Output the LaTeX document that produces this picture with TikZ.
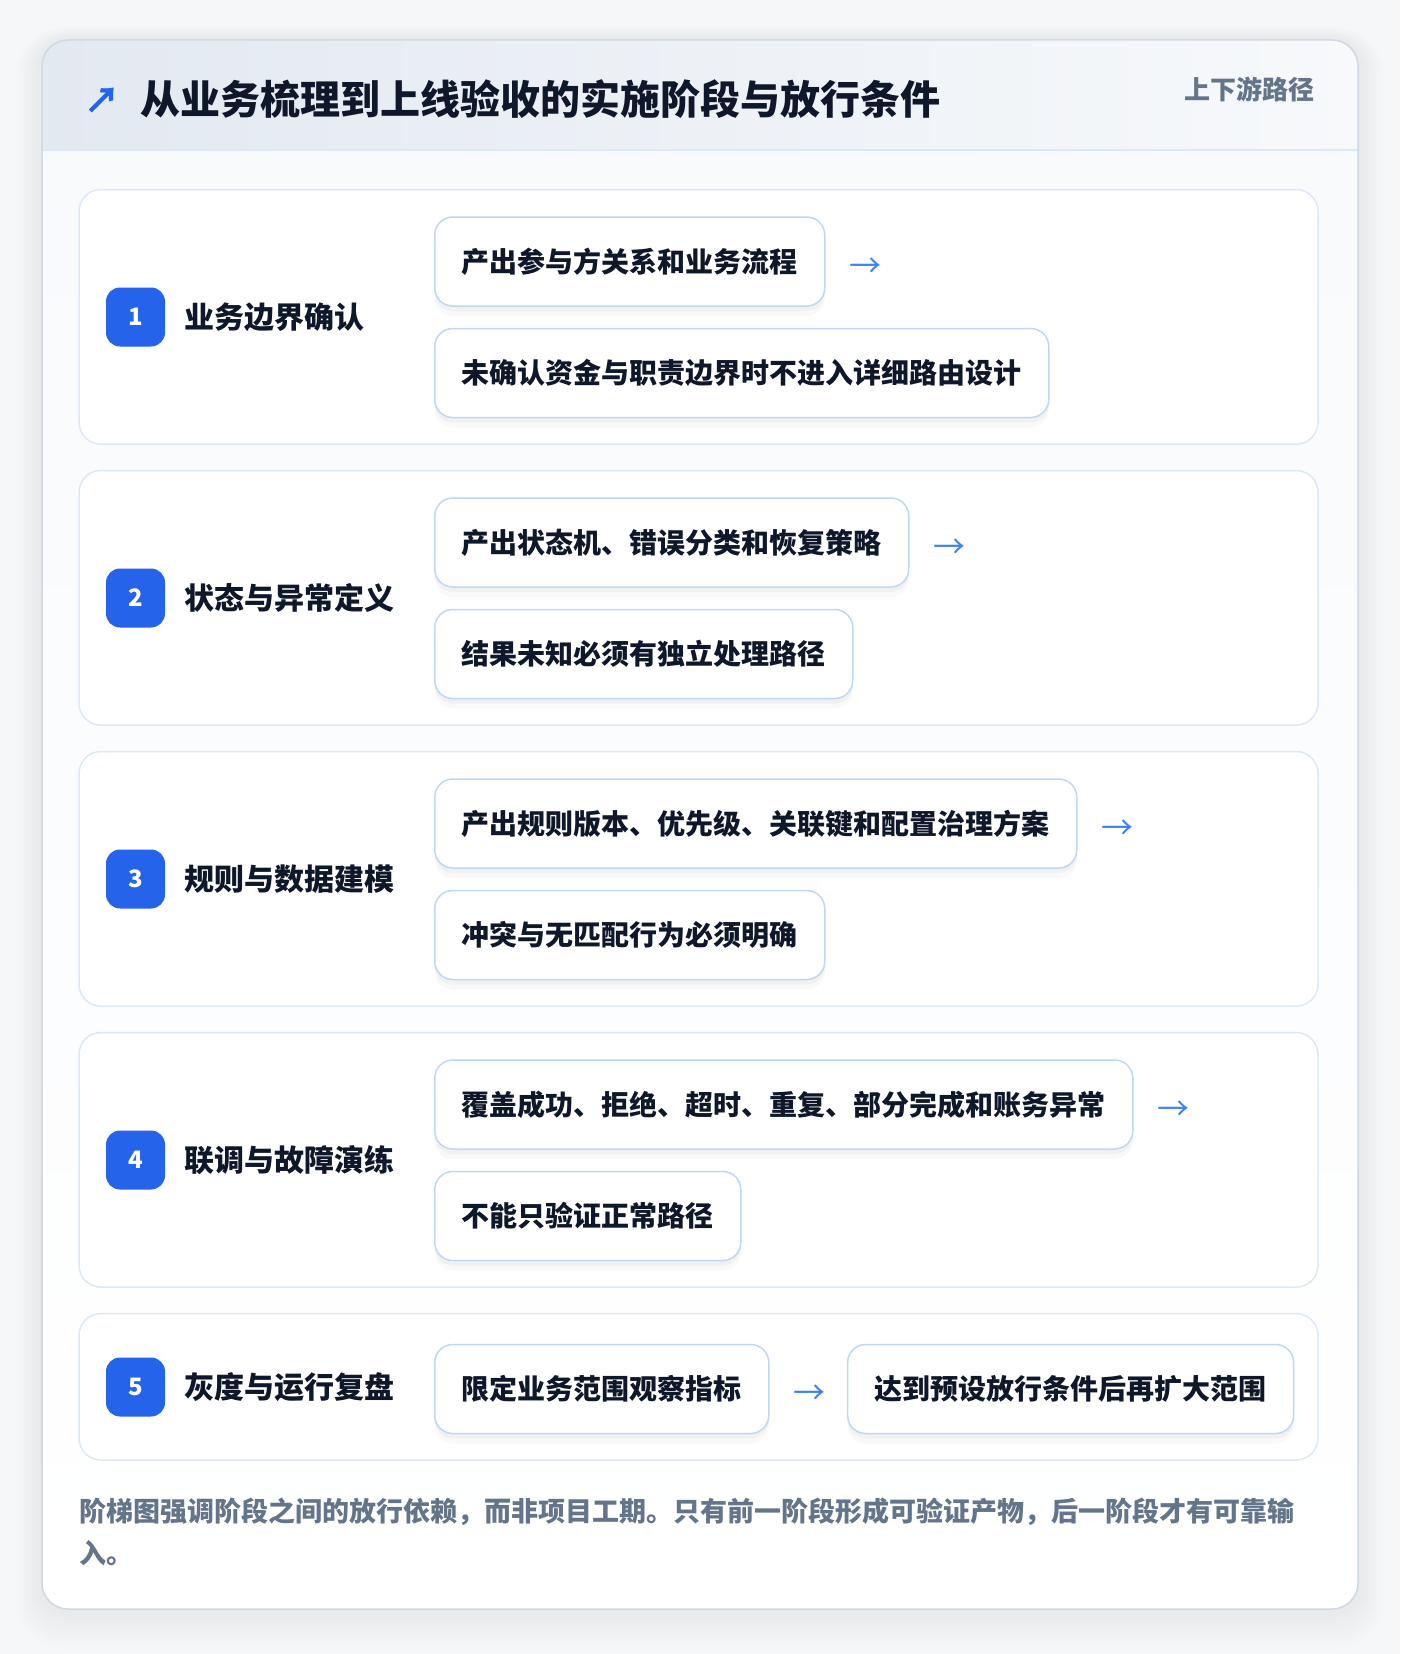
\documentclass[tikz,border=0pt]{standalone}
\usepackage{fontspec}
\setmainfont{Noto Sans CJK SC}
\usetikzlibrary{positioning,shadows}
\definecolor{pagebg}{HTML}{F6F7F9}
\definecolor{ink}{HTML}{0F172A}
\definecolor{muted}{HTML}{64748B}
\definecolor{accent}{HTML}{2563EB}
\definecolor{arrowblue}{HTML}{3B82F6}
\definecolor{cardline}{HTML}{CFD8E3}
\definecolor{panelline}{HTML}{DCE8F8}
\definecolor{boxline}{HTML}{BFD7F5}
\definecolor{headl}{HTML}{E3E9F1}
\definecolor{headr}{HTML}{F7F9FB}
\definecolor{bodytop}{HTML}{F8FAFC}
\begin{document}
\begin{tikzpicture}[x=1pt, y=-1pt, node distance=24pt]
  \tikzset{
    panel/.style={draw=panelline, line width=1.5pt, fill=white, rounded corners=22pt},
    badge/.style={fill=accent, rounded corners=14pt, minimum size=59pt, inner sep=0pt, text=white, font=\fontsize{24}{28}\selectfont\bfseries},
    stagename/.style={anchor=west, inner sep=0pt, text=ink, font=\fontsize{30}{36}\selectfont\bfseries},
    itembox/.style={draw=boxline, line width=1.5pt, fill=white, rounded corners=18pt, minimum height=89pt, inner xsep=27pt, anchor=west, text=ink, font=\fontsize{28}{34}\selectfont\bfseries,
      drop shadow={shadow xshift=0pt, shadow yshift=-10pt, opacity=0.025, fill=black},
      drop shadow={shadow xshift=0pt, shadow yshift=-5pt, opacity=0.03, fill=black}},
    nextarrow/.style={inner sep=0pt, yshift=-6pt, text=arrowblue, font=\fontsize{32}{38}\selectfont}
  }

  % page and card
  \fill[pagebg] (0,0) rectangle (1400,1654);
  \useasboundingbox (0,0) rectangle (1400,1654);
  \foreach \s in {1,...,14}
    \fill[black, opacity=0.005, rounded corners=26pt+2pt*\s] (42-2*\s,40-\s) rectangle (1358+2*\s,1609+3*\s);
  \begin{scope}
    \clip[rounded corners=26pt] (42,40) rectangle (1358,1609);
    \fill[top color=bodytop, bottom color=white] (42,150) rectangle (1358,1609);
    \fill[left color=headl, right color=headr] (42,40) rectangle (1358,150);
  \end{scope}
  \draw[panelline, line width=1.5pt] (42,150) -- (1358,150);
  \draw[cardline, line width=1.5pt, rounded corners=26pt] (42,40) rectangle (1358,1609);

  % header
  \node[text=accent, inner sep=0pt, font=\fontsize{36}{42}\selectfont\bfseries] (icon) at (102,101) {↗};
  \node[anchor=west, inner sep=0pt, text=ink, font=\fontsize{40}{48}\selectfont\bfseries] (title) at (140,99) {从业务梳理到上线验收的实施阶段与放行条件};
  \node[anchor=east, inner sep=0pt, text=muted, font=\fontsize{26}{30}\selectfont\bfseries] (tag) at (1315,89) {上下游路径};

  % stage panels
  \foreach \t in {189.5,470.5,751.5,1032.5}
    \draw[panel] (79,\t) rectangle (1318,\t+254.7);
  \draw[panel] (79,1313.5) rectangle (1318,1460);

  % stage 1
  \node[badge] (n1) at (135.5,317) {1};
  \node[stagename] (s1) at (184,317) {业务边界确认};
  \node[itembox] (a1) at (434,261.5) {产出参与方关系和业务流程};
  \node[nextarrow, right=24pt of a1] (r1) {→};
  \node[itembox, below=21pt of a1.south west, anchor=north west] (b1) {未确认资金与职责边界时不进入详细路由设计};

  % stage 2
  \node[badge] (n2) at (135.5,598) {2};
  \node[stagename] (s2) at (184,598) {状态与异常定义};
  \node[itembox] (a2) at (434,542.5) {产出状态机、错误分类和恢复策略};
  \node[nextarrow, right=24pt of a2] (r2) {→};
  \node[itembox, below=21pt of a2.south west, anchor=north west] (b2) {结果未知必须有独立处理路径};

  % stage 3
  \node[badge] (n3) at (135.5,879) {3};
  \node[stagename] (s3) at (184,879) {规则与数据建模};
  \node[itembox] (a3) at (434,823.5) {产出规则版本、优先级、关联键和配置治理方案};
  \node[nextarrow, right=24pt of a3] (r3) {→};
  \node[itembox, below=21pt of a3.south west, anchor=north west] (b3) {冲突与无匹配行为必须明确};

  % stage 4
  \node[badge] (n4) at (135.5,1160) {4};
  \node[stagename] (s4) at (184,1160) {联调与故障演练};
  \node[itembox] (a4) at (434,1104.5) {覆盖成功、拒绝、超时、重复、部分完成和账务异常};
  \node[nextarrow, right=24pt of a4] (r4) {→};
  \node[itembox, below=21pt of a4.south west, anchor=north west] (b4) {不能只验证正常路径};

  % stage 5
  \node[badge] (n5) at (135.5,1387) {5};
  \node[stagename] (s5) at (184,1387) {灰度与运行复盘};
  \node[itembox] (a5) at (434,1389) {限定业务范围观察指标};
  \node[nextarrow, right=24pt of a5] (r5) {→};
  \node[itembox, right=21pt of r5, yshift=6pt] (b5) {达到预设放行条件后再扩大范围};

  % footnote
  \node[anchor=west, align=left, inner sep=0pt, text=muted, font=\fontsize{27}{42}\selectfont\bfseries] (note) at (79,1532) {阶梯图强调阶段之间的放行依赖，而非项目工期。只有前一阶段形成可验证产物，后一阶段才有可靠输\\入。};
\end{tikzpicture}
\end{document}
